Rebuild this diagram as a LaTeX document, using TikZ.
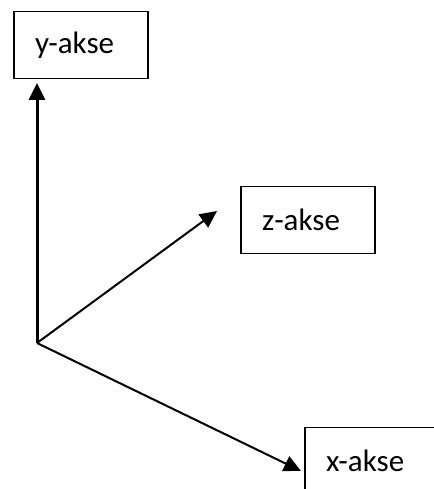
\documentclass[tikz,border=0pt]{standalone}
\usepackage{fontspec}
\setmainfont{Carlito}
\usetikzlibrary{arrows.meta}
\tikzset{
    aksebox/.style={draw, line width=1.5pt, text width=92pt, inner xsep=21pt, align=left, minimum height=67pt, font=\fontsize{31}{36}\selectfont},
    akse/.style={line width=2pt, -{Triangle[length=17pt,width=16pt]}},
}

\begin{document}
\begin{tikzpicture}[x=1pt,y=1pt]
    \useasboundingbox (0,0) rectangle (433,489);
    \coordinate (o) at (37,146);
    \coordinate (ytip) at (37,406);
    \coordinate (ztip) at (217,278);
    \coordinate (xtip) at (301,18);
    \node [aksebox] (yakse) at (81,444) {y-akse};
    \node [aksebox] (zakse) at (308,269) {z-akse};
    \node [aksebox] (xakse) at (372,28) {x-akse};
    \draw [akse, line width=3pt] (o) -- (ytip);
    \draw [akse] (o) -- (ztip);
    \draw [akse] (o) -- (xtip);
\end{tikzpicture}
\end{document}
